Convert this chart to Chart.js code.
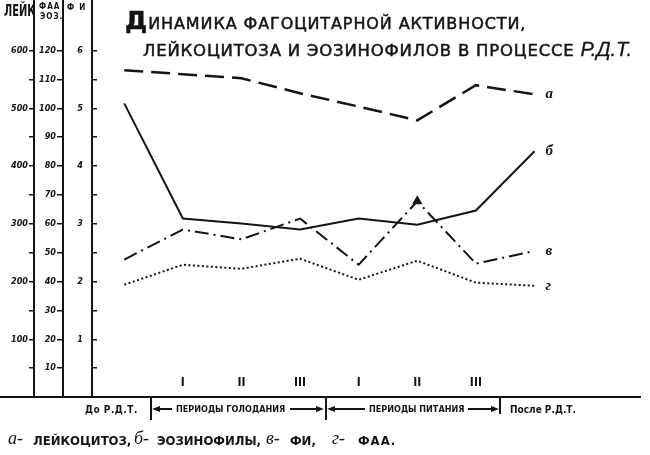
<!DOCTYPE html>
<html>
<head>
<meta charset="utf-8">
<script src="https://cdn.jsdelivr.net/npm/chart.js@4.4.1/dist/chart.umd.min.js"></script>
<style>
  body { margin: 0; background: #fff; }
  #wrap { position: relative; width: 650px; height: 455px; overflow: hidden; color: #141414;
          font-family: "Liberation Sans Narrow", "DejaVu Sans Condensed", sans-serif; }
  canvas { position: absolute; left: 0; top: 0; }
  .t { position: absolute; white-space: nowrap; line-height: 1; font-weight: bold; }
  .title { position: absolute; white-space: nowrap; line-height: 1; font-family: "DejaVu Sans", sans-serif;
           text-transform: uppercase; -webkit-text-stroke: 0.5px #141414; }
  .hand { font-family: "Liberation Serif", "DejaVu Serif", serif; font-style: italic; font-weight: bold; }
  .ln { position: absolute; background: #141414; }
  .arl { position: absolute; width: 0; height: 0; border-top: 3px solid transparent; border-bottom: 3px solid transparent; border-right: 8px solid #141414; }
  .arr { position: absolute; width: 0; height: 0; border-top: 3px solid transparent; border-bottom: 3px solid transparent; border-left: 8px solid #141414; }
</style>
</head>
<body>
<div id="wrap">
  <canvas id="chart" width="650" height="455"></canvas>

  <!-- axis headers -->
  <div class="t" style="left:4px;top:3px;font-size:11px;transform:scaleY(1.45);transform-origin:0 0;">ЛЕЙК</div>
  <div class="t" style="left:39px;top:3px;font-size:8px;letter-spacing:1px;">ФАА</div>
  <div class="t" style="left:40px;top:13px;font-size:8px;letter-spacing:1px;">ЭОЗ.</div>
  <div class="t" style="left:67px;top:4px;font-size:8px;letter-spacing:5px;">ФИ</div>

  <!-- title -->
  <div class="title" style="left:125px;top:8px;font-size:16px;letter-spacing:0.9px;"><span style="font-size:25px;font-weight:bold;">Д</span>инамика фагоцитарной активности,</div>
  <div class="title" style="left:143px;top:39px;font-size:16.5px;letter-spacing:0.8px;">лейкоцитоза и эозинофилов в процессе <span style="text-transform:none;font-family:'Liberation Sans Narrow',sans-serif;font-style:italic;font-size:20px;letter-spacing:0;-webkit-text-stroke:0.3px #141414;">Р.Д.Т.</span></div>

  <!-- baseline extension under the axis columns -->
  <div class="ln" style="left:0;top:396px;width:94px;height:2px;"></div>

  <!-- period brackets -->
  <div class="t" style="left:85px;top:405px;font-size:10px;letter-spacing:0.5px;">До Р.Д.Т.</div>
  <div class="ln" style="left:150px;top:398px;width:2px;height:22px;"></div>
  <div class="arl" style="left:152px;top:406px;"></div>
  <div class="ln" style="left:156px;top:408px;width:16px;height:1.5px;"></div>
  <div class="t" style="left:176px;top:405px;font-size:9px;">ПЕРИОДЫ ГОЛОДАНИЯ</div>
  <div class="ln" style="left:290px;top:408px;width:30px;height:1.5px;"></div>
  <div class="arr" style="left:316px;top:406px;"></div>
  <div class="ln" style="left:325px;top:398px;width:2px;height:22px;"></div>
  <div class="arl" style="left:327px;top:406px;"></div>
  <div class="ln" style="left:331px;top:408px;width:34px;height:1.5px;"></div>
  <div class="t" style="left:369px;top:405px;font-size:9px;">ПЕРИОДЫ ПИТАНИЯ</div>
  <div class="ln" style="left:468px;top:408px;width:28px;height:1.5px;"></div>
  <div class="arr" style="left:491px;top:406px;"></div>
  <div class="ln" style="left:499px;top:396px;width:2px;height:18px;"></div>
  <div class="t" style="left:510px;top:405px;font-size:10px;">После Р.Д.Т.</div>

  <!-- caption -->
  <div class="t hand" style="left:8px;top:429px;font-size:18px;font-weight:normal;">а-</div>
  <div class="t" style="left:33px;top:434px;font-size:13px;">ЛЕЙКОЦИТОЗ,</div>
  <div class="t hand" style="left:134px;top:429px;font-size:18px;font-weight:normal;">б-</div>
  <div class="t" style="left:157px;top:434px;font-size:13px;">ЭОЗИНОФИЛЫ,</div>
  <div class="t hand" style="left:266px;top:429px;font-size:18px;font-weight:normal;">в-</div>
  <div class="t" style="left:290px;top:434px;font-size:13px;">ФИ,</div>
  <div class="t hand" style="left:332px;top:429px;font-size:18px;font-weight:normal;">г-</div>
  <div class="t" style="left:358px;top:434px;font-size:13px;letter-spacing:1px;">ФАА.</div>
</div>

<script>
// stages of the Р.Д.Т. course
const stages = ['До Р.Д.Т.', 'I', 'II', 'III', 'I', 'II', 'III', 'После Р.Д.Т.'];
const romanTicks = [1, 2, 3, 4, 5, 6];

// а - лейкоцитоз (ЛЕЙК axis)
const leukocytes = [566, 559, 552, 526, 503, 479, 540, 524];
// б - эозинофилы (ФАА / ЭОЗ. axis)
const eosinophils = [101.7, 61.8, 60.1, 58, 61.8, 59.7, 64.6, 85.1];
// в - фагоцитарный индекс (ФИ axis)
const phagIndex = [2.38, 2.9, 2.73, 3.09, 2.29, 3.39, 2.31, 2.53];
// г - фагоцитарная активность (ФАА / ЭОЗ. axis)
const phagActivity = [38.9, 45.8, 44.4, 47.9, 40.6, 47.2, 39.6, 38.5];

const leukTicks = [50, 100, 150, 200, 250, 300, 350, 400, 450, 500, 550, 600];
const faaTicks = [10, 20, 30, 40, 50, 60, 70, 80, 90, 100, 110, 120];
const fiTicks = [0.5, 1, 1.5, 2, 2.5, 3, 3.5, 4, 4.5, 5, 5.5, 6];

const INK = '#141414';
const narrow = '"Liberation Sans Narrow", "DejaVu Sans Condensed", sans-serif';
const tickFont = { family: narrow, size: 9, weight: 'bold', style: 'italic' };

const pts = arr => arr.map((v, i) => ({ x: i, y: v }));

// letters а б в г at the end of each curve
const endLabels = {
  id: 'endLabels',
  afterDatasetsDraw(chart) {
    const ctx = chart.ctx;
    ctx.save();
    ctx.font = 'italic bold 15px "Liberation Serif", "DejaVu Serif", serif';
    ctx.fillStyle = INK;
    ctx.textBaseline = 'middle';
    chart.data.datasets.forEach((ds, i) => {
      const d = chart.getDatasetMeta(i).data;
      const p = d[d.length - 1];
      ctx.fillText(ds.label, p.x + 11, p.y);
    });
    ctx.restore();
  }
};

function yAxis(weight, max, ticks, width, showLabel, tickLen, pad) {
  return {
    position: 'left',
    weight: weight,
    min: 0,
    max: max,
    afterBuildTicks: s => { s.ticks = ticks.map(v => ({ value: v })); },
    afterFit: s => { s.width = width; s.paddingTop = 0; s.paddingBottom = 0; },
    grid: { drawOnChartArea: false, tickLength: tickLen, color: INK, lineWidth: 1.5 },
    border: { color: INK, width: 2 },
    ticks: { autoSkip: false, padding: pad, color: INK, font: tickFont,
             callback: v => showLabel(v) ? String(v) : '' }
  };
}

new Chart(document.getElementById('chart'), {
  type: 'line',
  data: {
    datasets: [
      { label: 'а', data: pts(leukocytes), yAxisID: 'leuk', borderColor: INK, borderWidth: 2.5,
        borderDash: [19, 8], pointRadius: 0 },
      { label: 'б', data: pts(eosinophils), yAxisID: 'faa', borderColor: INK, borderWidth: 2,
        pointRadius: 0 },
      { label: 'в', data: pts(phagIndex), yAxisID: 'fi', borderColor: INK, borderWidth: 2,
        borderDash: [14, 5, 2, 5], pointStyle: 'triangle', backgroundColor: INK,
        pointRadius: ctx => ctx.dataIndex === 5 ? 4 : 0 },
      { label: 'г', data: pts(phagActivity), yAxisID: 'faa', borderColor: INK, borderWidth: 2,
        borderDash: [2, 2.5], pointRadius: 0 }
    ]
  },
  options: {
    responsive: false,
    animation: false,
    layout: { autoPadding: false, padding: { top: 0, left: 0, right: 10, bottom: 58 } },
    plugins: { legend: { display: false }, tooltip: { enabled: false } },
    scales: {
      x: {
        type: 'linear',
        min: -0.55,
        max: 8.8,
        afterBuildTicks: s => { s.ticks = romanTicks.map(v => ({ value: v })); },
        afterFit: s => { s.height = 0; s.paddingLeft = 0; s.paddingRight = 0; },
        grid: { display: false, drawTicks: false },
        border: { color: INK, width: 2 },
        ticks: { autoSkip: false, mirror: true, padding: 7, maxRotation: 0, color: INK,
                 font: { family: narrow, size: 12, weight: 'bold' },
                 callback: v => stages[v] }
      },
      fi: yAxis(1, 6.875, fiTicks, 29, v => Number.isInteger(v), -5, 14),
      faa: yAxis(2, 137.5, faaTicks, 29, v => true, 6, 1),
      leuk: yAxis(3, 687.5, leukTicks, 34, v => v % 100 === 0, 5, 1)
    }
  },
  plugins: [endLabels]
});
</script>
</body>
</html>
